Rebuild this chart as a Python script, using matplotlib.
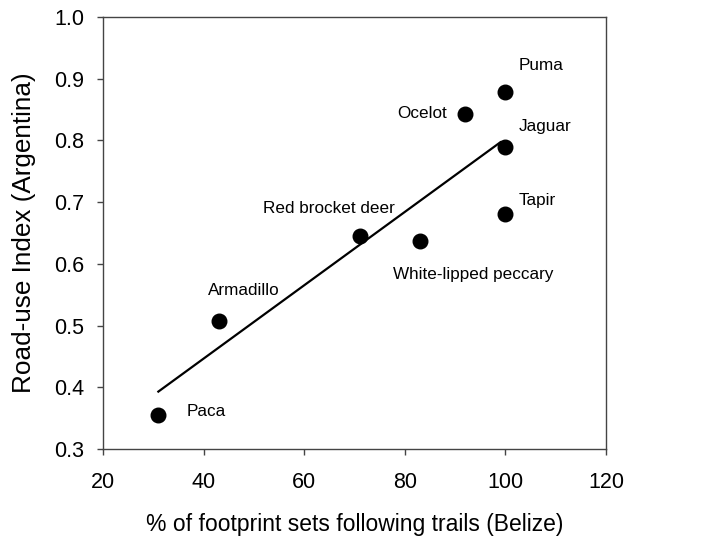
import numpy as np
import matplotlib
matplotlib.use('Agg')
import matplotlib.pyplot as plt

plt.rcParams['font.family'] = ['Liberation Sans', 'DejaVu Sans']

# 数据
species = ['Paca', 'Armadillo', 'Red brocket deer', 'White-lipped peccary',
           'Ocelot', 'Puma', 'Jaguar', 'Tapir']
trail_pct = [31, 43, 71, 83, 92, 100, 100, 100]
road_index = [0.355, 0.507, 0.645, 0.637, 0.842, 0.878, 0.790, 0.680]

# 回归线端点
fit_x = [31, 99]
fit_y = [0.393, 0.797]

# 标签位置 (x, y, ha)
label_pos = {
    'Paca': (36.7, 0.361, 'left'),
    'Armadillo': (40.9, 0.556, 'left'),
    'Red brocket deer': (65.0, 0.690, 'center'),
    'White-lipped peccary': (77.7, 0.583, 'left'),
    'Ocelot': (88.4, 0.843, 'right'),
    'Puma': (102.7, 0.921, 'left'),
    'Jaguar': (102.7, 0.822, 'left'),
    'Tapir': (102.7, 0.703, 'left'),
}

fig = plt.figure(figsize=(7.21, 5.37), dpi=100)
ax = fig.add_axes([0.1429, 0.1639, 0.6976, 0.8045])

ax.plot(fit_x, fit_y, color='black', lw=1.6, zorder=2)
ax.scatter(trail_pct, road_index, s=110, color='black', zorder=3)

for name in species:
    x, y, ha = label_pos[name]
    ax.text(x, y, name, ha=ha, va='center', fontsize=12.3)

ax.set_xlim(20, 120)
ax.set_ylim(0.3, 1.0)
ax.set_xticks(np.arange(20, 121, 20))
ax.set_yticks(np.arange(0.3, 1.01, 0.1))
ax.set_yticklabels([f'{v:.1f}' for v in np.arange(0.3, 1.01, 0.1)])
ax.tick_params(direction='out', length=4.3, width=1.0, color='#444444',
               labelsize=15.5, top=False, right=False)
ax.tick_params(axis='x', pad=12)
ax.tick_params(axis='y', pad=9)

for sp in ax.spines.values():
    sp.set_color('#444444')
    sp.set_linewidth(1.0)

ax.set_xlabel('% of footprint sets following trails (Belize)', fontsize=16.5, labelpad=15)
ax.set_ylabel('Road-use Index (Argentina)', fontsize=18.8, labelpad=13)

plt.savefig('out.png', dpi=100)
plt.close()
